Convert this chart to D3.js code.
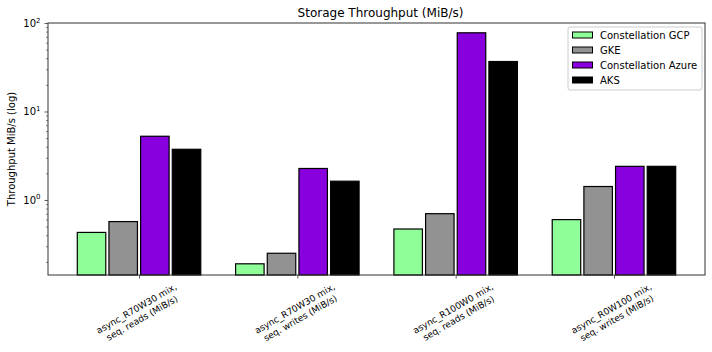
<!DOCTYPE html>
<html>
<head>
<meta charset="utf-8">
<script src="https://cdn.jsdelivr.net/npm/d3@7"></script>
<style>
  body { margin: 0; background: #fff; }
  text { font-family: "DejaVu Sans", sans-serif; fill: #000; }
</style>
</head>
<body>
<div class="div_d3"></div>
<script>
// data
const categories = [
  ["async_R70W30 mix,", "seq. reads (MiB/s)"],
  ["async_R70W30 mix,", "seq. writes (MiB/s)"],
  ["async_R100W0 mix,", "seq. reads (MiB/s)"],
  ["async_R0W100 mix,", "seq. writes (MiB/s)"]
]
const seriesNames = ["Constellation GCP", "GKE", "Constellation Azure", "AKS"]
const seriesColors = ["#90fe98", "#929292", "#8800dd", "#000000"]
const constellationGCP = [0.43, 0.19, 0.47, 0.60]
const gke = [0.57, 0.25, 0.70, 1.42]
const constellationAzure = [5.25, 2.27, 77.5, 2.40]
const aks = [3.74, 1.63, 36.7, 2.40]
const values = [constellationGCP, gke, constellationAzure, aks]
const majorTicks = [1, 10, 100]
const tickExponents = ["0", "1", "2"]

const margin = {top: 23, right: 7, bottom: 77, left: 48},
      width = 712 - margin.left - margin.right,
      height = 352 - margin.top - margin.bottom;

const svg = d3.select(".div_d3")
  .append("svg")
    .attr("width", width + margin.left + margin.right)
    .attr("height", height + margin.top + margin.bottom)
    .append("g")
    .attr("transform", `translate(${margin.left},${margin.top})`);

const x = d3.scaleLinear()
  .domain([-0.575, categories.length - 1 + 0.575])
  .range([0, width]);

const y = d3.scaleLog()
  .domain([0.142, 100])
  .range([height, 0]);

const barW = 0.18
const offsets = [-0.3, -0.1, 0.1, 0.3]

// bars
values.forEach(function(vals, s) {
  svg.selectAll(".bar" + s)
    .data(vals)
    .join("rect")
      .attr("x", (d, i) => x(i + offsets[s] - barW / 2))
      .attr("width", x(barW) - x(0))
      .attr("y", d => y(d))
      .attr("height", d => height - y(d))
      .style("fill", seriesColors[s])
      .style("stroke", "#000")
      .style("stroke-width", 1.2)
})

// minor ticks of the log axis
let minorTicks = []
for (let p of [0.1, 1, 10]) {
  for (let k = 2; k <= 9; k++) {
    if (k * p >= 0.142) minorTicks.push(k * p)
  }
}
svg.append("g")
  .call(d3.axisLeft(y).tickValues(minorTicks).tickSize(2).tickFormat(""))
  .call(g => g.select(".domain").remove())
  .call(g => g.selectAll("line").attr("stroke", "#333").attr("stroke-width", 0.6))

// major ticks
svg.append("g")
  .call(d3.axisLeft(y).tickValues(majorTicks).tickSize(3.5).tickFormat(""))
  .call(g => g.select(".domain").remove())
  .call(g => g.selectAll("line").attr("stroke", "#333").attr("stroke-width", 0.8))

// tick labels like 10^n
const tl = svg.selectAll(".ylab")
  .data(majorTicks)
  .join("text")
    .attr("x", -7.5)
    .attr("y", d => y(d) + 4)
    .attr("text-anchor", "end")
    .style("font-size", "10px")
tl.append("tspan").text("10")
tl.append("tspan")
  .attr("dy", -4.5)
  .style("font-size", "7px")
  .text((d, i) => tickExponents[i])

// x ticks
svg.append("g")
  .attr("transform", `translate(0,${height})`)
  .call(d3.axisBottom(x).tickValues(d3.range(categories.length)).tickSize(3.5).tickFormat(""))
  .call(g => g.select(".domain").remove())
  .call(g => g.selectAll("line").attr("stroke", "#333").attr("stroke-width", 0.8))

// rotated category labels
const xl = svg.selectAll(".xlab")
  .data(categories)
  .join("g")
    .attr("transform", (d, i) => `translate(${x(i)},${height + 38}) rotate(-30)`)
xl.append("text")
  .attr("text-anchor", "middle")
  .style("font-size", "9px")
  .selectAll("tspan")
  .data(d => d)
  .join("tspan")
    .attr("x", 0)
    .attr("y", (d, i) => i == 0 ? -2 : 9)
    .text(d => d)

// frame
svg.append("rect")
  .attr("width", width)
  .attr("height", height)
  .style("fill", "none")
  .style("stroke", "#333")
  .style("stroke-width", 1)

// title
svg.append("text")
  .attr("x", width / 2 + 4)
  .attr("y", -6)
  .attr("text-anchor", "middle")
  .style("font-size", "12px")
  .text("Storage Throughput (MiB/s)")

// y label
svg.append("text")
  .attr("transform", `translate(${-margin.left + 15},${height / 2}) rotate(-90)`)
  .attr("text-anchor", "middle")
  .style("font-size", "10px")
  .text("Throughput MiB/s (log)")

// legend
const lg = svg.append("g")
  .attr("transform", `translate(${width - 137},4)`)
lg.append("rect")
  .attr("width", 134)
  .attr("height", 63)
  .attr("rx", 2)
  .style("fill", "#fff")
  .style("fill-opacity", 0.8)
  .style("stroke", "#ccc")
  .style("stroke-width", 1)
lg.selectAll("rect.sw")
  .data(seriesNames)
  .join("rect")
    .attr("class", "sw")
    .attr("x", 4.5)
    .attr("y", (d, i) => 5 + i * 15)
    .attr("width", 20)
    .attr("height", 6)
    .style("fill", (d, i) => seriesColors[i])
    .style("stroke", "#000")
    .style("stroke-width", 1)
lg.selectAll("text")
  .data(seriesNames)
  .join("text")
    .attr("x", 32)
    .attr("y", (d, i) => 12 + i * 15)
    .style("font-size", "10px")
    .text(d => d)
</script>
</body>
</html>
